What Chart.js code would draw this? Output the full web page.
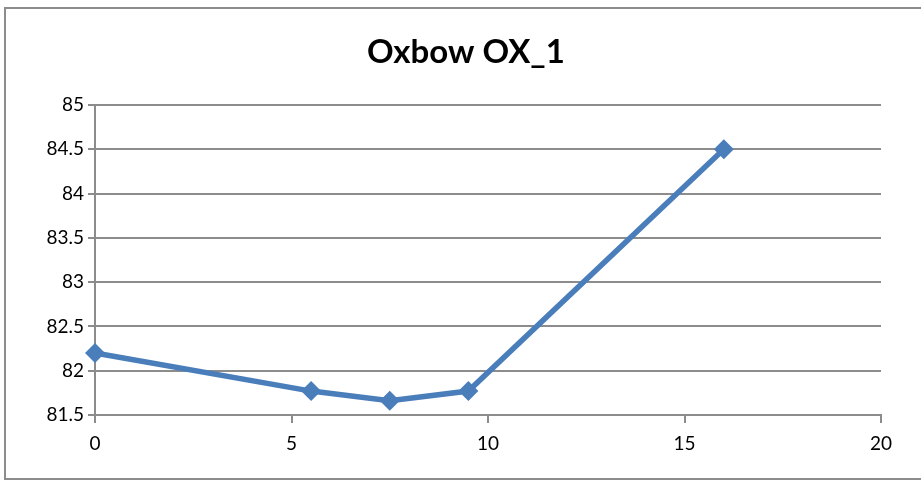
<!DOCTYPE html>
<html>
<head>
<meta charset="utf-8">
<script src="https://cdn.jsdelivr.net/npm/chart.js@4/dist/chart.umd.min.js"></script>
<style>
  html, body { margin: 0; padding: 0; background: #fff; overflow: hidden; }
  #wrap { position: relative; width: 921px; height: 483px; }
  #frame { position: absolute; left: 4px; top: 7px; width: 940px; height: 473px; border: 2px solid #8c8c8c; box-sizing: border-box; }
  canvas { position: absolute; left: 0; top: 0; }
</style>
</head>
<body>
<div id="wrap">
  <div id="frame"></div>
  <canvas id="chart" width="921" height="483"></canvas>
</div>
<script>
// chart data
const chartTitle = "Oxbow OX_1";
const xValues = [0, 5.5, 7.5, 9.5, 16];
const yValues = [82.2, 81.77, 81.66, 81.77, 84.5];
const xTicks = [0, 5, 10, 15, 20];
const yTicks = [81.5, 82, 82.5, 83, 83.5, 84, 84.5, 85];

const points = xValues.map((x, i) => ({ x: x, y: yValues[i] }));
const gridColor = "#8c8c8c";
const blue = "#4a7ebb";
const fontFamily = "Lato, 'Open Sans', sans-serif";

// title sits centred on the whole frame, not just the plot, so draw it here
const titlePlugin = {
    id: "frameTitle",
    afterDraw(chart) {
        const ctx = chart.ctx;
        ctx.save();
        ctx.font = "bold 33px " + fontFamily;
        ctx.fillStyle = "#000";
        ctx.textAlign = "center";
        ctx.textBaseline = "alphabetic";
        ctx.fillText(chartTitle, 466, 63);
        ctx.restore();
    }
};

new Chart(document.getElementById("chart").getContext("2d"), {
    type: "scatter",
    data: {
        datasets: [{
            data: points,
            showLine: true,
            clip: false,
            borderColor: blue,
            backgroundColor: blue,
            borderWidth: 5.5,
            pointStyle: "rectRot",
            pointRadius: 10,
            pointHoverRadius: 10,
            pointBorderWidth: 0
        }]
    },
    options: {
        responsive: false,
        animation: false,
        layout: { padding: { left: 0, right: 40, top: 105, bottom: 0 } },
        plugins: {
            legend: { display: false },
            tooltip: { enabled: false },
            title: { display: false }
        },
        scales: {
            x: {
                type: "linear",
                min: xTicks[0],
                max: xTicks[xTicks.length - 1],
                afterBuildTicks: axis => { axis.ticks = xTicks.map(v => ({ value: v })); },
                afterFit: axis => { axis.height = 68; },
                grid: { drawOnChartArea: false, drawTicks: true, tickLength: 8, color: gridColor, lineWidth: 2 },
                border: { color: gridColor, width: 2 },
                ticks: {
                    color: "#000",
                    padding: 9,
                    maxRotation: 0,
                    font: { family: fontFamily, size: 19 },
                    callback: v => String(v)
                }
            },
            y: {
                type: "linear",
                min: yTicks[0],
                max: yTicks[yTicks.length - 1],
                afterBuildTicks: axis => { axis.ticks = yTicks.map(v => ({ value: v })); },
                afterFit: axis => { axis.width = 95; },
                grid: { color: gridColor, lineWidth: 2, tickLength: 7 },
                border: { color: gridColor, width: 2 },
                ticks: {
                    color: "#000",
                    padding: 4,
                    font: { family: fontFamily, size: 19 },
                    callback: v => String(v)
                }
            }
        }
    },
    plugins: [titlePlugin]
});
</script>
</body>
</html>
